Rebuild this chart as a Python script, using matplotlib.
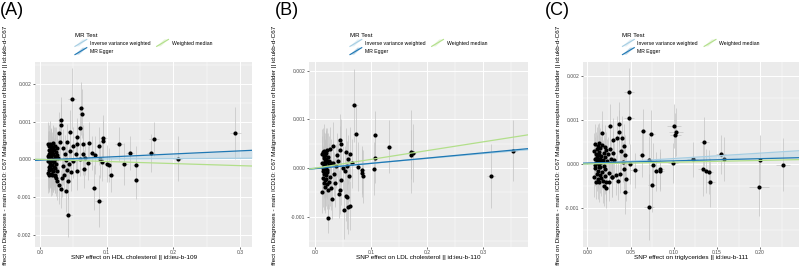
import numpy as np
import matplotlib.pyplot as plt
from matplotlib.legend_handler import HandlerBase
from matplotlib.lines import Line2D
from matplotlib.patches import Polygon
from matplotlib.ticker import MultipleLocator

plt.rcParams['font.family'] = ['Liberation Sans', 'DejaVu Sans']

# ---- panel A: HDL cholesterol ----
hdl_x = [
    0.0485, 0.0615, 0.0625, 0.031, 0.032, 0.060, 0.029, 0.045, 0.055, 0.074,
    0.095, 0.094, 0.088, 0.1185, 0.1345, 0.1665, 0.171, 0.2075, 0.293, 0.100,
    0.103, 0.1065, 0.1265, 0.144, 0.1445, 0.081, 0.089, 0.0425, 0.0385, 0.0425,
    0.031, 0.028, 0.093, 0.064, 0.082, 0.078, 0.090, 0.068, 0.060, 0.054,
    0.050, 0.044, 0.039, 0.037, 0.035, 0.045, 0.050, 0.055, 0.065, 0.072,
    0.066, 0.056, 0.047, 0.040, 0.036, 0.033, 0.034, 0.030, 0.041, 0.026,
    0.024,
    0.012, 0.012, 0.012, 0.013, 0.013, 0.013, 0.014, 0.014, 0.014, 0.015,
    0.015, 0.015, 0.016, 0.016, 0.016, 0.017, 0.017, 0.017, 0.018, 0.018,
    0.018, 0.019, 0.019, 0.020, 0.020, 0.020, 0.021, 0.021, 0.022, 0.022,
    0.023, 0.023, 0.024, 0.024, 0.025, 0.025, 0.026, 0.027, 0.012, 0.013,
    0.014, 0.015, 0.016, 0.017, 0.018, 0.019, 0.020, 0.021, 0.022, 0.023]
hdl_y = [
    0.00161, 0.00135, 0.00121, 0.00104, 0.00092, 0.00082, 0.00070, 0.00072, 0.00059, 0.00043,
    0.00057, 0.00048, 0.00035, 0.00040, 0.00017, 0.00017, 0.00053, 0.00002, 0.00070, -0.00011,
    -0.00014, -0.00040, -0.00012, -0.00015, -0.00055, -0.00075, -0.00110, -0.00146, -0.00084, -0.00056,
    -0.00078, -0.00068, -0.00007, 0.00015, 0.00012, 0.00016, 0.00000, 0.00004, 0.00000, 0.00015,
    -0.00005, -0.00012, -0.00002, 0.00015, 0.00030, 0.00022, 0.00036, 0.00042, 0.00040, -0.00010,
    -0.00026, -0.00030, -0.00034, -0.00028, -0.00040, -0.00050, -0.00018, 0.00045, 0.00045, -0.00058,
    -0.00048,
    0.00040, -0.00035, 0.00010, 0.00025, -0.00020, -0.00042, 0.00035, 0.00005, -0.00028, 0.00042,
    -0.00010, 0.00018, 0.00030, -0.00038, -0.00005, 0.00012, -0.00025, 0.00038, 0.00022, -0.00015,
    -0.00040, 0.00032, 0.00002, 0.00015, -0.00032, 0.00044, -0.00008, 0.00026, 0.00036, -0.00022,
    0.00008, -0.00040, 0.00020, -0.00012, 0.00030, -0.00030, 0.00012, 0.00005, -0.00005, 0.00000,
    0.00015, -0.00018, 0.00008, 0.00020, -0.00002, -0.00030, 0.00028, -0.00020, 0.00002, -0.00045]
hdl_yci = [
    0.00080, 0.00070, 0.00065, 0.00060, 0.00055, 0.00050, 0.00055, 0.00060, 0.00050, 0.00055,
    0.00060, 0.00055, 0.00050, 0.00045, 0.00045, 0.00050, 0.00045, 0.00060, 0.00070, 0.00050,
    0.00045, 0.00045, 0.00055, 0.00050, 0.00050, 0.00060, 0.00070, 0.00060, 0.00055, 0.00050,
    0.00050, 0.00050, 0.00050, 0.00055, 0.00050, 0.00045, 0.00050, 0.00045, 0.00045, 0.00045,
    0.00045, 0.00045, 0.00045, 0.00050, 0.00050, 0.00045, 0.00050, 0.00050, 0.00050, 0.00045,
    0.00050, 0.00050, 0.00050, 0.00050, 0.00050, 0.00050, 0.00050, 0.00050, 0.00050, 0.00050,
    0.00050,
    0.00060, 0.00055, 0.00065, 0.00050, 0.00060, 0.00045, 0.00055, 0.00070, 0.00050, 0.00060,
    0.00065, 0.00055, 0.00050, 0.00060, 0.00070, 0.00055, 0.00060, 0.00045, 0.00050, 0.00065,
    0.00055, 0.00060, 0.00070, 0.00050, 0.00055, 0.00045, 0.00065, 0.00060, 0.00050, 0.00055,
    0.00060, 0.00050, 0.00065, 0.00055, 0.00045, 0.00060, 0.00055, 0.00050, 0.00070, 0.00065,
    0.00060, 0.00055, 0.00050, 0.00060, 0.00065, 0.00055, 0.00050, 0.00060, 0.00055, 0.00045]
hdl_xci = [
    0.006, 0.005, 0.004, 0.004, 0.003, 0.004, 0.003, 0.004, 0.004, 0.004,
    0.005, 0.004, 0.004, 0.006, 0.006, 0.006, 0.008, 0.006, 0.008, 0.005,
    0.004, 0.004, 0.005, 0.004, 0.004, 0.005, 0.006, 0.005, 0.004, 0.004,
    0.003, 0.003, 0.004, 0.004, 0.004, 0.004, 0.004, 0.004, 0.004, 0.003,
    0.003, 0.003, 0.003, 0.003, 0.003, 0.003, 0.003, 0.004, 0.004, 0.004,
    0.004, 0.004, 0.003, 0.003, 0.003, 0.003, 0.003, 0.003, 0.003, 0.003,
    0.003,
    0.002, 0.002, 0.002, 0.002, 0.002, 0.002, 0.002, 0.002, 0.002, 0.002,
    0.002, 0.002, 0.002, 0.002, 0.002, 0.002, 0.002, 0.002, 0.002, 0.002,
    0.002, 0.002, 0.002, 0.002, 0.002, 0.002, 0.002, 0.002, 0.002, 0.002,
    0.002, 0.002, 0.002, 0.002, 0.002, 0.002, 0.002, 0.002, 0.002, 0.002,
    0.002, 0.002, 0.002, 0.002, 0.002, 0.002, 0.002, 0.002, 0.002, 0.002]

# ---- panel B: LDL cholesterol ----
ldl_x = [
    0.0696, 0.0726, 0.107, 0.132, 0.171, 0.175, 0.171, 0.353, 0.3137, 0.1048,
    0.107, 0.0845, 0.0845, 0.085, 0.076, 0.0238, 0.030, 0.052, 0.059, 0.0625,
    0.0575, 0.055, 0.0417, 0.0437, 0.047, 0.0446, 0.047, 0.045, 0.039, 0.0554,
    0.059, 0.0625, 0.057, 0.0536, 0.060, 0.0327, 0.036, 0.034, 0.032, 0.028,
    0.037, 0.041, 0.050, 0.065,
    0.012, 0.013, 0.013, 0.014, 0.014, 0.014, 0.015, 0.015, 0.015, 0.016,
    0.016, 0.016, 0.017, 0.017, 0.017, 0.018, 0.018, 0.018, 0.019, 0.019,
    0.020, 0.020, 0.020, 0.021, 0.021, 0.022, 0.022, 0.023, 0.023, 0.024,
    0.025, 0.025, 0.026, 0.027, 0.028, 0.014, 0.016, 0.018, 0.020, 0.022]
ldl_y = [
    0.00129, 0.00071, 0.00068, 0.00044, 0.00034, 0.00031, 0.00028, 0.00036, -0.00016, -0.00001,
    0.00020, -0.00004, -0.00010, -0.00017, 0.00003, -0.00103, -0.00064, -0.00085, -0.00080, -0.00077,
    -0.00060, -0.00058, -0.00053, -0.00045, -0.00025, 0.00057, 0.00050, 0.00037, 0.00027, 0.00033,
    0.00018, 0.00030, 0.00005, -0.00005, -0.00017, 0.00045, -0.00030, -0.00012, 0.00010, -0.00040,
    0.00005, 0.00015, 0.00000, 0.00010,
    0.00030, -0.00048, 0.00010, 0.00033, -0.00020, -0.00005, 0.00025, -0.00030, 0.00005, 0.00020,
    -0.00012, 0.00036, 0.00015, -0.00025, -0.00002, 0.00028, -0.00038, 0.00008, 0.00018, -0.00015,
    0.00032, -0.00022, 0.00002, 0.00012, -0.00033, 0.00038, -0.00008, 0.00022, -0.00045, 0.00006,
    0.00015, -0.00028, 0.00040, -0.00018, 0.00010, 0.00000, 0.00008, -0.00010, 0.00016, -0.00004]
ldl_yci = [
    0.00075, 0.00060, 0.00050, 0.00055, 0.00085, 0.00060, 0.00050, 0.00062, 0.00065, 0.00055,
    0.00050, 0.00050, 0.00050, 0.00055, 0.00050, 0.00030, 0.00040, 0.00060, 0.00055, 0.00050,
    0.00065, 0.00050, 0.00050, 0.00050, 0.00050, 0.00055, 0.00050, 0.00050, 0.00045, 0.00050,
    0.00050, 0.00055, 0.00050, 0.00050, 0.00050, 0.00050, 0.00050, 0.00045, 0.00045, 0.00045,
    0.00045, 0.00045, 0.00045, 0.00050,
    0.00050, 0.00045, 0.00055, 0.00050, 0.00060, 0.00045, 0.00050, 0.00055, 0.00060, 0.00045,
    0.00050, 0.00055, 0.00045, 0.00060, 0.00050, 0.00045, 0.00055, 0.00050, 0.00060, 0.00045,
    0.00050, 0.00055, 0.00045, 0.00060, 0.00050, 0.00045, 0.00055, 0.00050, 0.00060, 0.00045,
    0.00050, 0.00055, 0.00045, 0.00060, 0.00050, 0.00045, 0.00055, 0.00050, 0.00060, 0.00045]
ldl_xci = [
    0.006, 0.005, 0.004, 0.005, 0.005, 0.005, 0.004, 0.008, 0.007, 0.004,
    0.004, 0.004, 0.004, 0.004, 0.004, 0.003, 0.003, 0.004, 0.004, 0.004,
    0.004, 0.004, 0.003, 0.003, 0.003, 0.003, 0.003, 0.003, 0.003, 0.004,
    0.004, 0.004, 0.004, 0.004, 0.004, 0.003, 0.003, 0.003, 0.003, 0.003,
    0.003, 0.003, 0.003, 0.004,
    0.002, 0.002, 0.002, 0.002, 0.002, 0.002, 0.002, 0.002, 0.002, 0.002,
    0.002, 0.002, 0.002, 0.002, 0.002, 0.002, 0.002, 0.002, 0.002, 0.002,
    0.002, 0.002, 0.002, 0.002, 0.002, 0.002, 0.002, 0.002, 0.002, 0.002,
    0.002, 0.002, 0.002, 0.002, 0.002, 0.002, 0.002, 0.002, 0.002, 0.002]

# ---- panel C: triglycerides ----
tg_x = [
    0.0483, 0.0486, 0.1007, 0.103, 0.102, 0.0644, 0.074, 0.1354, 0.0633, 0.0718,
    0.0756, 0.0795, 0.0845, 0.0845, 0.0749, 0.0714, 0.044, 0.045, 0.0992, 0.1219,
    0.1335, 0.137, 0.1405, 0.1424, 0.1548, 0.1586, 0.1995, 0.1987, 0.2269, 0.0548,
    0.049, 0.037, 0.037, 0.026, 0.017, 0.040, 0.034, 0.030, 0.042, 0.039,
    0.044, 0.041, 0.043, 0.038, 0.035, 0.033, 0.029, 0.022, 0.019, 0.025,
    0.008, 0.008, 0.009, 0.009, 0.009, 0.010, 0.010, 0.010, 0.011, 0.011,
    0.011, 0.012, 0.012, 0.012, 0.013, 0.013, 0.013, 0.014, 0.014, 0.014,
    0.015, 0.015, 0.015, 0.016, 0.016, 0.016, 0.017, 0.017, 0.018, 0.018,
    0.019, 0.019, 0.020, 0.020, 0.021, 0.021, 0.022, 0.022, 0.023, 0.024,
    0.025, 0.026, 0.027, 0.028, 0.030, 0.031, 0.009, 0.011, 0.013, 0.015]
tg_y = [
    0.00163, 0.00105, 0.00086, 0.00072, 0.00066, 0.00075, 0.00068, 0.00051, 0.00020, 0.00008,
    -0.00003, -0.00017, -0.00017, -0.00011, -0.00049, -0.00098, -0.00064, -0.00035, 0.00002, 0.00011,
    -0.00012, -0.00015, -0.00018, -0.00042, 0.00022, 0.00012, 0.00010, -0.00053, -0.00002, -0.00014,
    0.00000, 0.00090, 0.00073, 0.00086, 0.00070, 0.00060, 0.00058, 0.00055, 0.00040, 0.00030,
    0.00020, 0.00005, -0.00012, -0.00022, -0.00038, -0.00025, -0.00030, -0.00055, -0.00050, -0.00040,
    0.00030, -0.00030, 0.00012, -0.00010, 0.00045, 0.00022, -0.00040, 0.00002, 0.00035, -0.00022,
    0.00008, 0.00040, -0.00015, -0.00035, 0.00020, 0.00000, -0.00042, 0.00028, -0.00008, 0.00048,
    0.00012, -0.00025, 0.00036, 0.00004, -0.00032, 0.00018, 0.00042, -0.00018, 0.00010, -0.00038,
    0.00026, -0.00005, 0.00038, -0.00028, 0.00015, -0.00012, 0.00032, -0.00040, 0.00006, 0.00022,
    -0.00020, 0.00034, 0.00012, -0.00030, 0.00025, 0.00008, -0.00002, 0.00015, 0.00005, -0.00006]
tg_yci = [
    0.00055, 0.00060, 0.00050, 0.00055, 0.00050, 0.00050, 0.00055, 0.00055, 0.00050, 0.00055,
    0.00050, 0.00045, 0.00045, 0.00045, 0.00060, 0.00075, 0.00050, 0.00050, 0.00045, 0.00040,
    0.00060, 0.00050, 0.00050, 0.00055, 0.00045, 0.00050, 0.00055, 0.00065, 0.00060, 0.00040,
    0.00045, 0.00050, 0.00050, 0.00050, 0.00050, 0.00050, 0.00050, 0.00050, 0.00050, 0.00045,
    0.00045, 0.00045, 0.00045, 0.00045, 0.00045, 0.00045, 0.00045, 0.00045, 0.00045, 0.00045,
    0.00040, 0.00045, 0.00050, 0.00040, 0.00045, 0.00050, 0.00040, 0.00045, 0.00050, 0.00040,
    0.00045, 0.00050, 0.00040, 0.00045, 0.00050, 0.00040, 0.00045, 0.00050, 0.00040, 0.00045,
    0.00050, 0.00040, 0.00045, 0.00050, 0.00040, 0.00045, 0.00050, 0.00040, 0.00045, 0.00050,
    0.00040, 0.00045, 0.00050, 0.00040, 0.00045, 0.00050, 0.00040, 0.00045, 0.00050, 0.00040,
    0.00045, 0.00050, 0.00040, 0.00045, 0.00050, 0.00040, 0.00045, 0.00050, 0.00040, 0.00045]
tg_xci = [
    0.006, 0.006, 0.008, 0.008, 0.006, 0.004, 0.004, 0.005, 0.004, 0.004,
    0.004, 0.004, 0.004, 0.004, 0.005, 0.006, 0.004, 0.004, 0.006, 0.006,
    0.005, 0.005, 0.005, 0.005, 0.006, 0.006, 0.007, 0.012, 0.008, 0.005,
    0.004, 0.003, 0.003, 0.003, 0.002, 0.003, 0.003, 0.003, 0.003, 0.003,
    0.003, 0.003, 0.003, 0.003, 0.003, 0.003, 0.003, 0.002, 0.002, 0.002,
    0.002, 0.002, 0.002, 0.002, 0.002, 0.002, 0.002, 0.002, 0.002, 0.002,
    0.002, 0.002, 0.002, 0.002, 0.002, 0.002, 0.002, 0.002, 0.002, 0.002,
    0.002, 0.002, 0.002, 0.002, 0.002, 0.002, 0.002, 0.002, 0.002, 0.002,
    0.002, 0.002, 0.002, 0.002, 0.002, 0.002, 0.002, 0.002, 0.002, 0.002,
    0.002, 0.002, 0.002, 0.002, 0.002, 0.002, 0.002, 0.002, 0.002, 0.002]

# MR estimates: (intercept, slope) per method
ivw = [(0.0, 0.00010), (0.0, 0.00100), (0.0, 0.00123)]
egger = [(-0.00002, 0.00082), (-0.00001, 0.00108), (0.00002, 0.00050)]
wmed = [(0.0, -0.00055), (0.0, 0.00180), (0.0, 0.00040)]

methods = ['Inverse variance weighted', 'MR Egger', 'Weighted median']
colors = ['#a6cee3', '#1f78b4', '#b2df8a']

panel_tags = ['(A)', '(B)', '(C)']
xlabels = ['SNP effect on HDL cholesterol || id:ieu-b-109',
           'SNP effect on LDL cholesterol || id:ieu-b-110',
           'SNP effect on triglycerides || id:ieu-b-111']
ylab = 'SNP effect on Diagnoses - main ICD10: C67 Malignant neoplasm of bladder || id:ukb-d-C67'


class DiagKey(HandlerBase):
    def create_artists(self, legend, orig_handle, xdescent, ydescent,
                       width, height, fontsize, trans):
        x0, y0 = -xdescent, -ydescent
        c = orig_handle.get_color()
        band = Polygon([[x0, y0], [x0 + width * 0.35, y0],
                        [x0 + width, y0 + height], [x0 + width * 0.65, y0 + height]],
                       closed=True, facecolor=c, alpha=0.3, edgecolor='none', transform=trans)
        ln = Line2D([x0, x0 + width], [y0, y0 + height], color=c, lw=0.8, transform=trans)
        return [band, ln]


fig = plt.figure(figsize=(7.99, 2.66), dpi=100)

W, H = 799, 266
boxes = [(35, 217), (309, 219), (583, 216)]
xlims = [(-0.0075, 0.318), (-0.011, 0.38), (-0.005, 0.245)]
ylims = [(-0.00232, 0.00258), (-0.00162, 0.00218), (-0.00189, 0.00232)]
xsteps = [0.1, 0.1, 0.05]
xfmt = ['%.1f', '%.1f', '%.2f']
tag_x = [0, 275, 545]
ylab_x = [-0.125, -0.148, -0.102]
xlab_x = [0.455, 0.5, 0.5]

data = [(hdl_x, hdl_y, hdl_yci, hdl_xci),
        (ldl_x, ldl_y, ldl_yci, ldl_xci),
        (tg_x, tg_y, tg_yci, tg_xci)]

for i in range(3):
    left, width = boxes[i]
    ax = fig.add_axes([left / W, 1 - 247 / H, width / W, 185 / H])
    ax.set_facecolor('#EBEBEB')
    for s in ax.spines.values():
        s.set_visible(False)

    x, y, yci, xci = [np.array(a) for a in data[i]]
    ax.errorbar(x, y, yerr=yci, xerr=xci, fmt='none', ecolor='#C4C4C4',
                elinewidth=0.5, capsize=0, zorder=2)
    ax.scatter(x, y, s=9, color='black', linewidths=0, zorder=3)

    ax.set_xlim(xlims[i])
    ax.set_ylim(ylims[i])

    xs = np.array(xlims[i])
    ax.fill_between(xs, ivw[i][0] + ivw[i][1] * xs, egger[i][0] + egger[i][1] * xs,
                    color='#a6cee3', alpha=0.35, linewidth=0, zorder=4)
    handles = []
    for (b, m), col, name in zip([ivw[i], egger[i], wmed[i]], colors, methods):
        ax.axline((0, b), slope=m, color=col, lw=0.9, zorder=5)
        handles.append(Line2D([], [], color=col, label=name))

    ax.xaxis.set_major_locator(MultipleLocator(xsteps[i]))
    ax.xaxis.set_minor_locator(MultipleLocator(xsteps[i] / 2))
    ax.yaxis.set_major_locator(MultipleLocator(0.001))
    ax.yaxis.set_minor_locator(MultipleLocator(0.0005))
    ax.xaxis.set_major_formatter(plt.FormatStrFormatter(xfmt[i]))
    ax.yaxis.set_major_formatter(plt.FormatStrFormatter('%.3f'))
    ax.grid(which='major', color='white', lw=0.7)
    ax.grid(which='minor', color='white', lw=0.35)
    ax.set_axisbelow(True)
    ax.tick_params(which='major', length=1.5, width=0.5, color='#333333',
                   labelsize=3.6, labelcolor='#4D4D4D', pad=1)
    ax.tick_params(which='minor', length=0)

    ax.set_xlabel(xlabels[i], fontsize=4.6)
    ax.xaxis.set_label_coords(xlab_x[i], -0.043)
    ax.set_ylabel(ylab, fontsize=4.6)
    ax.yaxis.set_label_coords(ylab_x[i], 0.5)

    leg = ax.legend(handles=handles, ncol=2, loc='lower center',
                    bbox_to_anchor=(0.5, 1.04), frameon=False, title='MR Test',
                    fontsize=3.7, title_fontsize=4.4, alignment='left',
                    handler_map={Line2D: DiagKey()}, handlelength=2.3,
                    handleheight=1.7, handletextpad=0.6, columnspacing=1.2,
                    labelspacing=0.25, borderaxespad=0, borderpad=0)

    fig.text(tag_x[i] / W, 1 - 2 / H, panel_tags[i], fontsize=13, va='top', ha='left')

fig.savefig('out.png', dpi=100)
